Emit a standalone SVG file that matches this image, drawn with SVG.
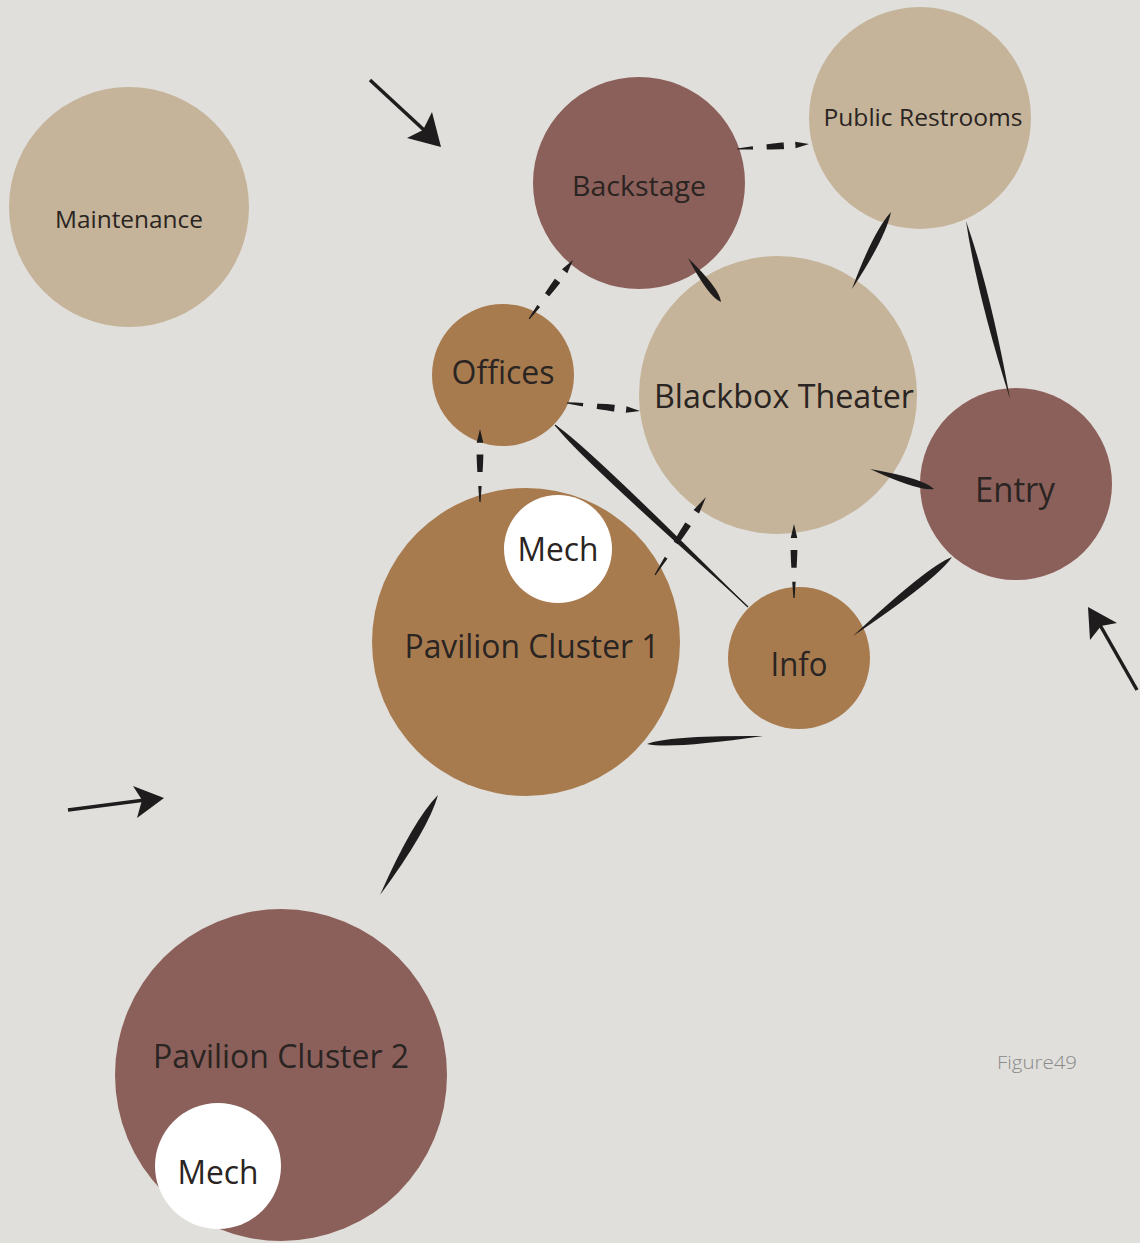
<svg xmlns="http://www.w3.org/2000/svg" width="1140" height="1243" viewBox="0 0 1140 1243">
<style>
.tan{fill:#c5b49a}
.mauve{fill:#8c605a}
.brown{fill:#a87b4f}
.mech{fill:#ffffff}
.lbl{font-family:"Open Sans","Noto Sans","DejaVu Sans",sans-serif;fill:#2a2422;text-anchor:middle}
.con{fill:#1e1c1c}
.arr{stroke:#1e1c1c;stroke-width:3.5;fill:none}
</style>
<defs>
<mask id="dm" maskUnits="userSpaceOnUse" x="-5" y="-20" width="110" height="40">
<line x1="0" y1="0" x2="100" y2="0" stroke="#fff" stroke-width="20" stroke-dasharray="19 16 24 19 22"/>
</mask>
<path id="dlens" d="M0,0 L19,-3.3 C40,-4 70,-2 100,-0.6 L100,0.6 C70,2 40,4 19,3.3 Z"/>
</defs>
<rect width="1140" height="1243" fill="#e0dfdb"/>

<g id="node-maintenance"><circle class="tan" cx="129" cy="207" r="120"/><text class="lbl" x="129" y="228" font-size="24" textLength="148" lengthAdjust="spacingAndGlyphs">Maintenance</text></g>
<g id="node-backstage"><circle class="mauve" cx="639" cy="183" r="106"/><text class="lbl" x="639" y="196" font-size="27" textLength="134" lengthAdjust="spacingAndGlyphs">Backstage</text></g>
<g id="node-restrooms"><circle class="tan" cx="920" cy="118" r="111"/><text class="lbl" x="923" y="126" font-size="24" textLength="199" lengthAdjust="spacingAndGlyphs">Public Restrooms</text></g>
<g id="node-offices"><circle class="brown" cx="503" cy="375" r="71"/><text class="lbl" x="503" y="384" font-size="32" textLength="103" lengthAdjust="spacingAndGlyphs">Offices</text></g>
<g id="node-blackbox"><circle class="tan" cx="778" cy="395" r="139"/><text class="lbl" x="784" y="408" font-size="32" textLength="260" lengthAdjust="spacingAndGlyphs">Blackbox Theater</text></g>
<g id="node-entry"><circle class="mauve" cx="1016" cy="484" r="96"/><text class="lbl" x="1015" y="502" font-size="34" textLength="80" lengthAdjust="spacingAndGlyphs">Entry</text></g>
<g id="node-pavilion1"><circle class="brown" cx="526" cy="642" r="154"/><text class="lbl" x="532" y="658" font-size="32" textLength="255" lengthAdjust="spacingAndGlyphs">Pavilion Cluster 1</text></g>
<g id="node-mech1"><circle class="mech" cx="558" cy="549" r="54"/><text class="lbl" x="558" y="561" font-size="32" textLength="81" lengthAdjust="spacingAndGlyphs">Mech</text></g>
<g id="node-info"><circle class="brown" cx="799" cy="658" r="71"/><text class="lbl" x="799" y="676" font-size="32" textLength="57" lengthAdjust="spacingAndGlyphs">Info</text></g>
<g id="node-pavilion2"><circle class="mauve" cx="281" cy="1075" r="166"/><text class="lbl" x="281" y="1068" font-size="32" textLength="256" lengthAdjust="spacingAndGlyphs">Pavilion Cluster 2</text></g>
<g id="node-mech2"><circle class="mech" cx="218" cy="1166" r="63"/><text class="lbl" x="218" y="1184" font-size="32" textLength="81" lengthAdjust="spacingAndGlyphs">Mech</text></g>

<g id="connectors">
<!-- solid tapered links -->
<g class="con">
<path transform="translate(688,258) rotate(53.1) scale(0.55,1)" d="M0,0 Q80,-7 100,0 Q80,7 0,0Z"/>
<path transform="translate(891,212) rotate(116.9) scale(0.863,1)" d="M0,0 Q30,-7 100,0 Q30,7 0,0Z"/>
<path transform="translate(966,221) rotate(76.1) scale(1.834,1)" d="M0,0 Q40,-7 100,0 Q40,7 0,0Z"/>
<path transform="translate(870,469) rotate(17.35) scale(0.67,1)" d="M0,0 Q80,-7 100,0 Q80,7 0,0Z"/>
<path transform="translate(952,557) rotate(141.4) scale(1.267,1)" d="M0,0 Q20,-8 100,0 Q20,8 0,0Z"/>
<path transform="translate(763,736) rotate(176.1) scale(1.163,1)" d="M0,0 Q80,-7 100,0 Q80,7 0,0Z"/>
<path transform="translate(438,795) rotate(120.1) scale(1.156,1)" d="M0,0 Q30,-9 100,0 Q30,9 0,0Z"/>
<path transform="translate(555,425) rotate(43.3) scale(2.653,1)" d="M0,0 Q10,-7 100,0 Q10,7 0,0Z"/>
<line x1="555" y1="425" x2="748" y2="607" stroke="#1e1c1c" stroke-width="1.3"/>
</g>
<!-- dashed tapered links -->
<g class="con">
<use href="#dlens" mask="url(#dm)" transform="translate(809,144) rotate(176) scale(0.72,1)"/>
<use href="#dlens" mask="url(#dm)" transform="translate(573,260) rotate(126.7) scale(0.736,1)"/>
<use href="#dlens" mask="url(#dm)" transform="translate(640,411) rotate(186.3) scale(0.734,1)"/>
<use href="#dlens" mask="url(#dm)" transform="translate(480,429) rotate(90) scale(0.73,1)"/>
<use href="#dlens" mask="url(#dm)" transform="translate(706,497) rotate(123.2) scale(0.932,1)"/>
<use href="#dlens" mask="url(#dm)" transform="translate(794,524) rotate(90) scale(0.74,1)"/>
</g>
<!-- entrance arrows -->
<g id="arrows">
<line class="arr" x1="370" y1="80" x2="424" y2="130"/>
<polygon class="con" points="441,147 432,112 423,130 407,138"/>
<line class="arr" x1="68" y1="810" x2="145" y2="800"/>
<polygon class="con" points="164,798 133,786 142,800 137,818"/>
<line class="arr" x1="1137" y1="690" x2="1100" y2="625"/>
<polygon class="con" points="1088,607 1117,623 1101,626 1090,640"/>
</g>
</g>

<text x="997" y="1069" font-family="'Open Sans','Noto Sans',sans-serif" font-weight="300" font-size="18" fill="#8a8a8a" textLength="80" lengthAdjust="spacingAndGlyphs">Figure49</text>
</svg>
